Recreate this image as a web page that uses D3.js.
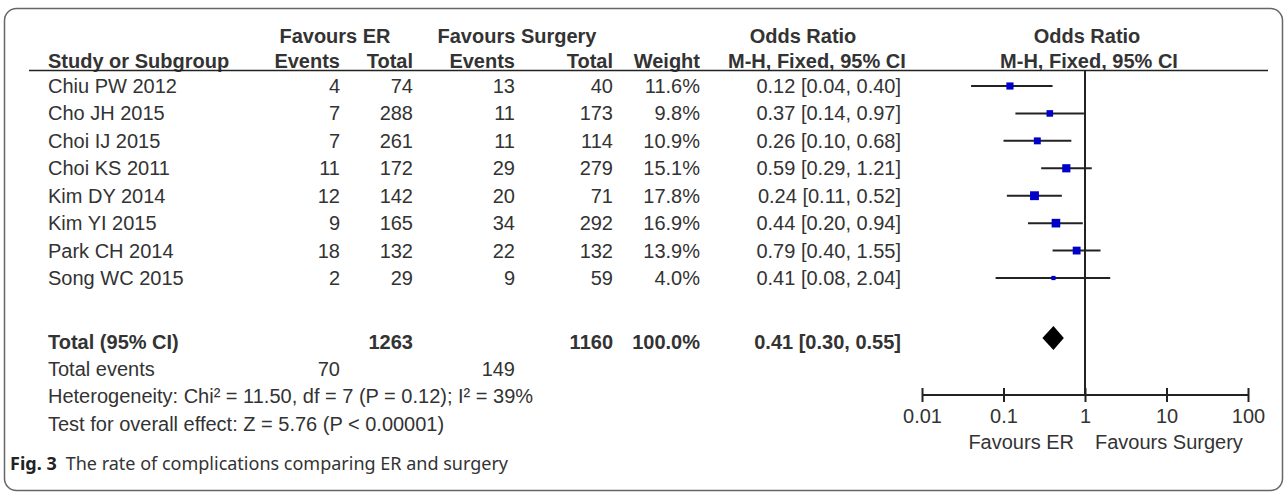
<!DOCTYPE html>
<html>
<head>
<meta charset="utf-8">
<script src="https://cdn.jsdelivr.net/npm/d3@7"></script>
<style>
  body { margin: 0; background: #fff; }
  svg text { font-family: "Liberation Sans", Arial, sans-serif; fill: #333; }
</style>
</head>
<body>
<svg id="chart" width="1287" height="493"></svg>
<script>
// study rows
const studies = ["Chiu PW 2012", "Cho JH 2015", "Choi IJ 2015", "Choi KS 2011", "Kim DY 2014", "Kim YI 2015", "Park CH 2014", "Song WC 2015"];
const erEvents = [4, 7, 7, 11, 12, 9, 18, 2];
const erTotal = [74, 288, 261, 172, 142, 165, 132, 29];
const surgEvents = [13, 11, 11, 29, 20, 34, 22, 9];
const surgTotal = [40, 173, 114, 279, 71, 292, 132, 59];
const weights = [11.6, 9.8, 10.9, 15.1, 17.8, 16.9, 13.9, 4.0];
const orVals = [0.12, 0.37, 0.26, 0.59, 0.24, 0.44, 0.79, 0.41];
const ciLow = [0.04, 0.14, 0.10, 0.29, 0.11, 0.20, 0.40, 0.08];
const ciHigh = [0.40, 0.97, 0.68, 1.21, 0.52, 0.94, 1.55, 2.04];

// pooled
const total = {erTotal: 1263, surgTotal: 1160, weight: 100.0, or: 0.41, lo: 0.30, hi: 0.55, erEvents: 70, surgEvents: 149};
const tickVals = [0.01, 0.1, 1, 10, 100];
const tickLabels = ["0.01", "0.1", "1", "10", "100"];
const footLines = [
  "Heterogeneity: Chi\u00b2 = 11.50, df = 7 (P = 0.12); I\u00b2 = 39%",
  "Test for overall effect: Z = 5.76 (P < 0.00001)"
];

const svg = d3.select("#chart");
const fs = 20;

// frame
svg.append("rect")
  .attr("x", 4.5).attr("y", 8.5).attr("width", 1278).attr("height", 482)
  .attr("rx", 12).attr("fill", "none").attr("stroke", "#666").attr("stroke-width", 1.5);

// row positions
const y = d3.scalePoint().domain(d3.range(studies.length)).range([86, 278]);
const yTotal = 342, yEvents = 369, yHet = 396, yTest = 424;

// columns (right edges)
const col = {name: 48, erE: 340, erT: 413, sE: 515, sT: 613, w: 700, ci: 901};

function txt(x, yy, s, anchor, bold, size) {
  return svg.append("text")
    .attr("x", x).attr("y", yy).attr("dy", "0.35em")
    .attr("text-anchor", anchor || "start")
    .style("font-size", (size || fs) + "px")
    .style("font-weight", bold ? "bold" : "normal")
    .text(s);
}

// headers
txt(335, 36, "Favours ER", "middle", true);
txt(517, 36, "Favours Surgery", "middle", true);
txt(803, 36, "Odds Ratio", "middle", true);
txt(1087, 36, "Odds Ratio", "middle", true);
txt(col.name, 61, "Study or Subgroup", "start", true);
txt(col.erE, 61, "Events", "end", true);
txt(col.erT, 61, "Total", "end", true);
txt(col.sE, 61, "Events", "end", true);
txt(col.sT, 61, "Total", "end", true);
txt(col.w, 61, "Weight", "end", true);
txt(728, 61, "M-H, Fixed, 95% CI", "start", true);
txt(1089, 61, "M-H, Fixed, 95% CI", "middle", true);

svg.append("line").attr("x1", 29).attr("x2", 1268).attr("y1", 70.5).attr("y2", 70.5)
  .attr("stroke", "#222").attr("stroke-width", 1.5);

const f2 = d3.format(".2f");
studies.forEach((s, i) => {
  const yy = y(i);
  txt(col.name, yy, s);
  txt(col.erE, yy, erEvents[i], "end");
  txt(col.erT, yy, erTotal[i], "end");
  txt(col.sE, yy, surgEvents[i], "end");
  txt(col.sT, yy, surgTotal[i], "end");
  txt(col.w, yy, weights[i].toFixed(1) + "%", "end");
  txt(col.ci, yy, f2(orVals[i]) + " [" + f2(ciLow[i]) + ", " + f2(ciHigh[i]) + "]", "end");
});

txt(col.name, yTotal, "Total (95% CI)", "start", true);
txt(col.erT, yTotal, total.erTotal, "end", true);
txt(col.sT, yTotal, total.surgTotal, "end", true);
txt(col.w, yTotal, total.weight.toFixed(1) + "%", "end", true);
txt(col.ci, yTotal, f2(total.or) + " [" + f2(total.lo) + ", " + f2(total.hi) + "]", "end", true);

txt(col.name, yEvents, "Total events");
txt(col.erE, yEvents, total.erEvents, "end");
txt(col.sE, yEvents, total.surgEvents, "end");
txt(col.name, yHet, footLines[0]);
txt(col.name, yTest, footLines[1]);

// forest plot
const x = d3.scaleLog().domain([0.01, 100]).range([922, 1248]);
const yAxis = 395;

svg.append("line").attr("x1", x(1)).attr("x2", x(1)).attr("y1", 70).attr("y2", yAxis)
  .attr("stroke", "#222").attr("stroke-width", 2);

const g = svg.append("g");
g.selectAll("line.ci").data(studies).join("line").attr("class", "ci")
  .attr("x1", (d, i) => x(ciLow[i])).attr("x2", (d, i) => x(ciHigh[i]))
  .attr("y1", (d, i) => y(i)).attr("y2", (d, i) => y(i))
  .attr("stroke", "#222").attr("stroke-width", 2);

g.selectAll("rect.sq").data(studies).join("rect").attr("class", "sq")
  .each(function (d, i) {
    const s = 2.1 * Math.sqrt(weights[i]);
    d3.select(this).attr("x", x(orVals[i]) - s / 2).attr("y", y(i) - s / 2)
      .attr("width", s).attr("height", s);
  })
  .attr("fill", "#0000c8");

// pooled diamond
const dh = 12;
svg.append("path")
  .attr("d", `M${x(total.lo)},${yTotal - 4} L${x(total.or)},${yTotal - 4 - dh} L${x(total.hi)},${yTotal - 4} L${x(total.or)},${yTotal - 4 + dh} Z`)
  .attr("fill", "#000");

// axis
const axis = d3.axisBottom(x).tickValues(tickVals).tickFormat((d, i) => tickLabels[i]).tickSize(7);
const ag = svg.append("g").attr("transform", `translate(0,${yAxis})`).call(axis);
ag.select(".domain").attr("stroke", "#222").attr("stroke-width", 2).attr("d", `M${x(0.01)},0H${x(100)}`);
ag.selectAll(".tick line").attr("stroke", "#222").attr("stroke-width", 2).attr("y1", -7);
ag.selectAll(".tick text").attr("y", 14).style("font-size", fs + "px").style("font-family", "Liberation Sans, Arial, sans-serif").attr("fill", "#333");

txt(x(1) - 11, 442, "Favours ER", "end");
txt(x(1) + 10, 442, "Favours Surgery", "start");

// caption
const cap = svg.append("text").attr("x", 10).attr("y", 464).attr("dy", "0.35em")
  .style("font-family", "'Noto Sans', 'Open Sans', sans-serif").style("font-size", "18px");
cap.append("tspan").style("font-weight", "bold").style("fill", "#222").text("Fig. 3");
cap.append("tspan").attr("dx", 9).style("fill", "#333").text("The rate of complications comparing ER and surgery");
</script>
</body>
</html>
